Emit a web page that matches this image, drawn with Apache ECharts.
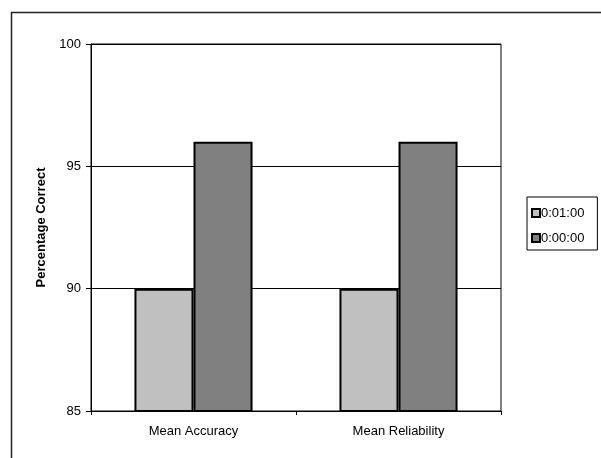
<!DOCTYPE html>
<html>
<head>
<meta charset="utf-8">
<script src="https://cdn.jsdelivr.net/npm/echarts@6/dist/echarts.min.js"></script>
<style>
  html, body { margin: 0; padding: 0; background: #fff; }
  #chart { width: 601px; height: 458px; }
</style>
</head>
<body>
<div id="chart"></div>
<script>
// Categories and series values
const categories = ['Mean Accuracy', 'Mean Reliability'];
const seriesNames = ['0:01:00', '0:00:00'];
const values01 = [90, 90];
const values00 = [96, 96];
const yTicks = [85, 90, 95, 100];

const FONT = '"Liberation Sans", Arial, sans-serif';
const chart = echarts.init(document.getElementById('chart'), null, { renderer: 'canvas' });

chart.setOption({
  animation: false,
  backgroundColor: '#fff',
  textStyle: { fontFamily: FONT },
  graphic: [
    {
      // outer chart-area frame (left and top edges)
      type: 'polyline',
      shape: { points: [[11.5, 458], [11.5, 12.5], [601, 12.5]] },
      style: { stroke: '#222', lineWidth: 1.5, fill: null }
    }
  ],
  grid: {
    left: 91, top: 44, width: 410, height: 367,
    show: true, borderColor: '#000', borderWidth: 1, backgroundColor: '#fff'
  },
  legend: {
    orient: 'vertical',
    left: 527, top: 197,
    data: seriesNames,
    padding: [9, 13, 5, 4],
    itemGap: 11,
    itemWidth: 8, itemHeight: 8,
    borderColor: '#000', borderWidth: 1,
    icon: 'rect',
    textStyle: { fontFamily: FONT, fontSize: 13, lineHeight: 14, color: '#000', padding: [0, 0, 0, -4] }
  },
  xAxis: {
    type: 'category',
    data: categories,
    axisLine: { lineStyle: { color: '#000', width: 1 } },
    axisTick: { show: true, length: 4, lineStyle: { color: '#000' } },
    axisLabel: { fontFamily: FONT, fontSize: 13, color: '#000', margin: 14 }
  },
  yAxis: {
    type: 'value',
    min: yTicks[0], max: yTicks[yTicks.length - 1], interval: 5,
    name: 'Percentage Correct',
    nameLocation: 'middle',
    nameGap: 40,
    nameTextStyle: { fontFamily: FONT, fontSize: 13, fontWeight: 'bold', color: '#000' },
    axisLine: { show: true, lineStyle: { color: '#000', width: 1 } },
    axisTick: { show: true, length: 5, lineStyle: { color: '#000' } },
    axisLabel: { fontFamily: FONT, fontSize: 13, color: '#000', margin: 10 },
    splitLine: { show: true, lineStyle: { color: '#000', width: 1 } }
  },
  series: [
    {
      name: seriesNames[0], type: 'bar', data: values01,
      barGap: '0%', barCategoryGap: '42.4%',
      itemStyle: { color: '#C0C0C0', borderColor: '#000', borderWidth: 2 }
    },
    {
      name: seriesNames[1], type: 'bar', data: values00,
      itemStyle: { color: '#808080', borderColor: '#000', borderWidth: 2 }
    }
  ]
});
</script>
</body>
</html>
